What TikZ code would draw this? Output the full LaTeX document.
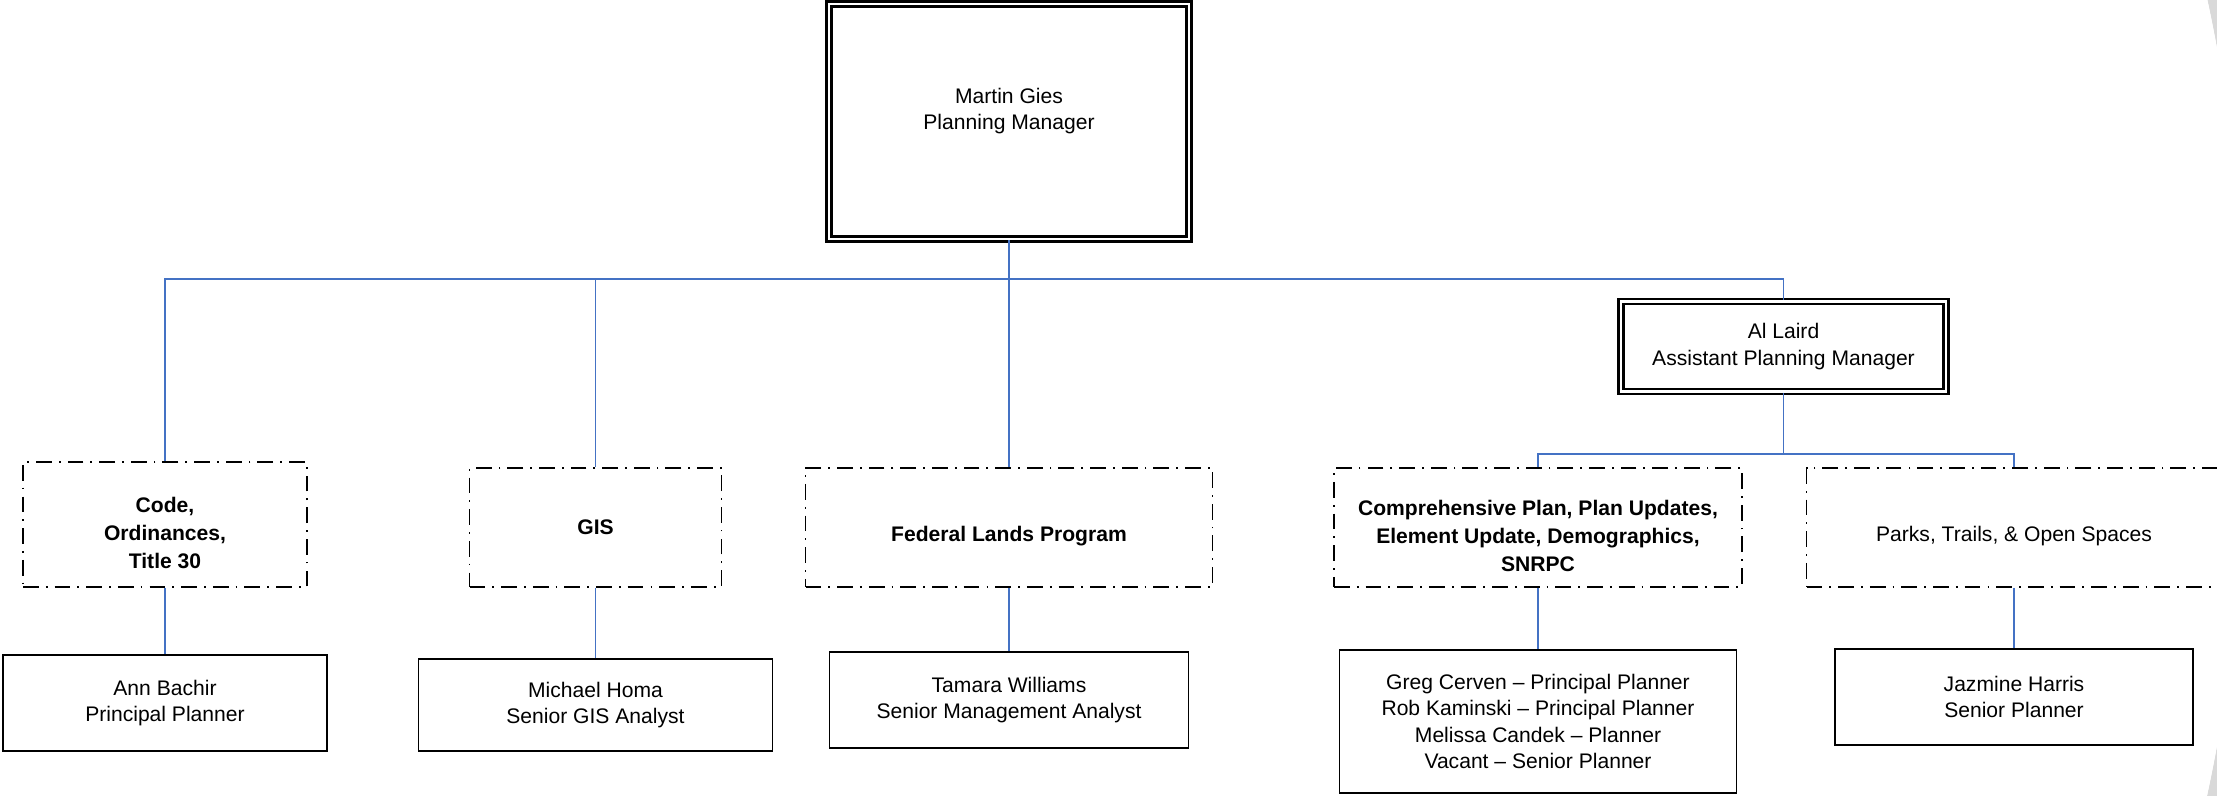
\documentclass[tikz,border=0pt]{standalone}
\usepackage{fontspec}
\setmainfont{Liberation Sans}
\definecolor{linkblue}{RGB}{68,114,196}
\begin{document}
\begin{tikzpicture}[
  font=\fontsize{12}{15}\selectfont,
  mgr/.style={draw, line width=1.3pt, double, double distance=1.6pt, align=center},
  area/.style={draw, line width=1.1pt, dash pattern=on 9pt off 4pt on 1pt off 4pt, align=center, font=\fontsize{12}{16}\selectfont\bfseries},
  staff/.style={draw, line width=0.9pt, align=center},
  conn/.style={draw, line width=1pt, linkblue}
]
\useasboundingbox (0,0) rectangle (44.34,15.90);
% grey edge of the slide
\begin{scope}
\clip (38,0) rectangle (44.34,15.90);
\fill[gray!30] (38,-1) rectangle (46,17) (7.04,7.96) circle (37.94);
\end{scope}
\begin{scope}
\clip (38,0) rectangle (44.34,15.90);
\fill[white] (7.04,7.96) circle (37.94);
\end{scope}

\node[mgr, minimum width=7.2cm, minimum height=4.7cm, execute at end node={\rule[-0.5cm]{0pt}{0.5cm}}] (1) at (20.18,13.47) {Martin Gies\\Planning Manager};
\node[mgr, minimum width=6.5cm, minimum height=1.8cm] (2) at (35.67,8.97) {Al Laird\\Assistant Planning Manager};

\node[area, minimum width=5.68cm, minimum height=2.5cm] (3) at (3.30,5.41) {\rule{0pt}{0.65cm}Code,\\Ordinances,\\Title 30};
\node[area, minimum width=5.04cm, minimum height=2.38cm] (4) at (11.91,5.35) {GIS};
\node[area, minimum width=8.14cm, minimum height=2.38cm] (5) at (20.18,5.35) {\rule{0pt}{0.65cm}Federal Lands Program};
\node[area, minimum width=8.16cm, minimum height=2.38cm] (6) at (30.76,5.35) {\rule{0pt}{0.65cm}Comprehensive Plan, Plan Updates,\\Element Update, Demographics,\\SNRPC};
\node[area, font=\fontsize{12}{15}\selectfont, minimum width=8.3cm, minimum height=2.38cm] (7) at (40.28,5.35) {\rule{0pt}{0.65cm}Parks, Trails, \& Open Spaces};

\node[staff, minimum width=6.48cm, minimum height=1.92cm] (8) at (3.30,1.84) {Ann Bachir\\Principal Planner};
\node[staff, minimum width=7.08cm, minimum height=1.84cm] (9) at (11.91,1.80) {Michael Homa\\Senior GIS Analyst};
\node[staff, minimum width=7.18cm, minimum height=1.92cm] (10) at (20.18,1.90) {Tamara Williams\\Senior Management Analyst};
\node[staff, minimum width=7.94cm, minimum height=2.86cm] (11) at (30.76,1.47) {Greg Cerven – Principal Planner\\Rob Kaminski – Principal Planner\\Melissa Candek – Planner\\Vacant – Senior Planner};
\node[staff, minimum width=7.16cm, minimum height=1.92cm] (12) at (40.28,1.96) {Jazmine Harris\\Senior Planner};

\coordinate (bus) at (20.18,10.32);
\coordinate (lbus) at (35.67,6.82);

\path[conn] (1.south) -- (bus);
\path[conn] (bus) -| (3.north);
\path[conn] (bus) -| (4.north);
\path[conn] (bus) -- (5.north);
\path[conn] (bus) -| (2.north);
\path[conn] (2.south) -- (lbus);
\path[conn] (lbus) -| (6.north);
\path[conn] (lbus) -| (7.north);
\path[conn] (3.south) -- (8.north);
\path[conn] (4.south) -- (9.north);
\path[conn] (5.south) -- (10.north);
\path[conn] (6.south) -- (11.north);
\path[conn] (7.south) -- (12.north);
\end{tikzpicture}
\end{document}
